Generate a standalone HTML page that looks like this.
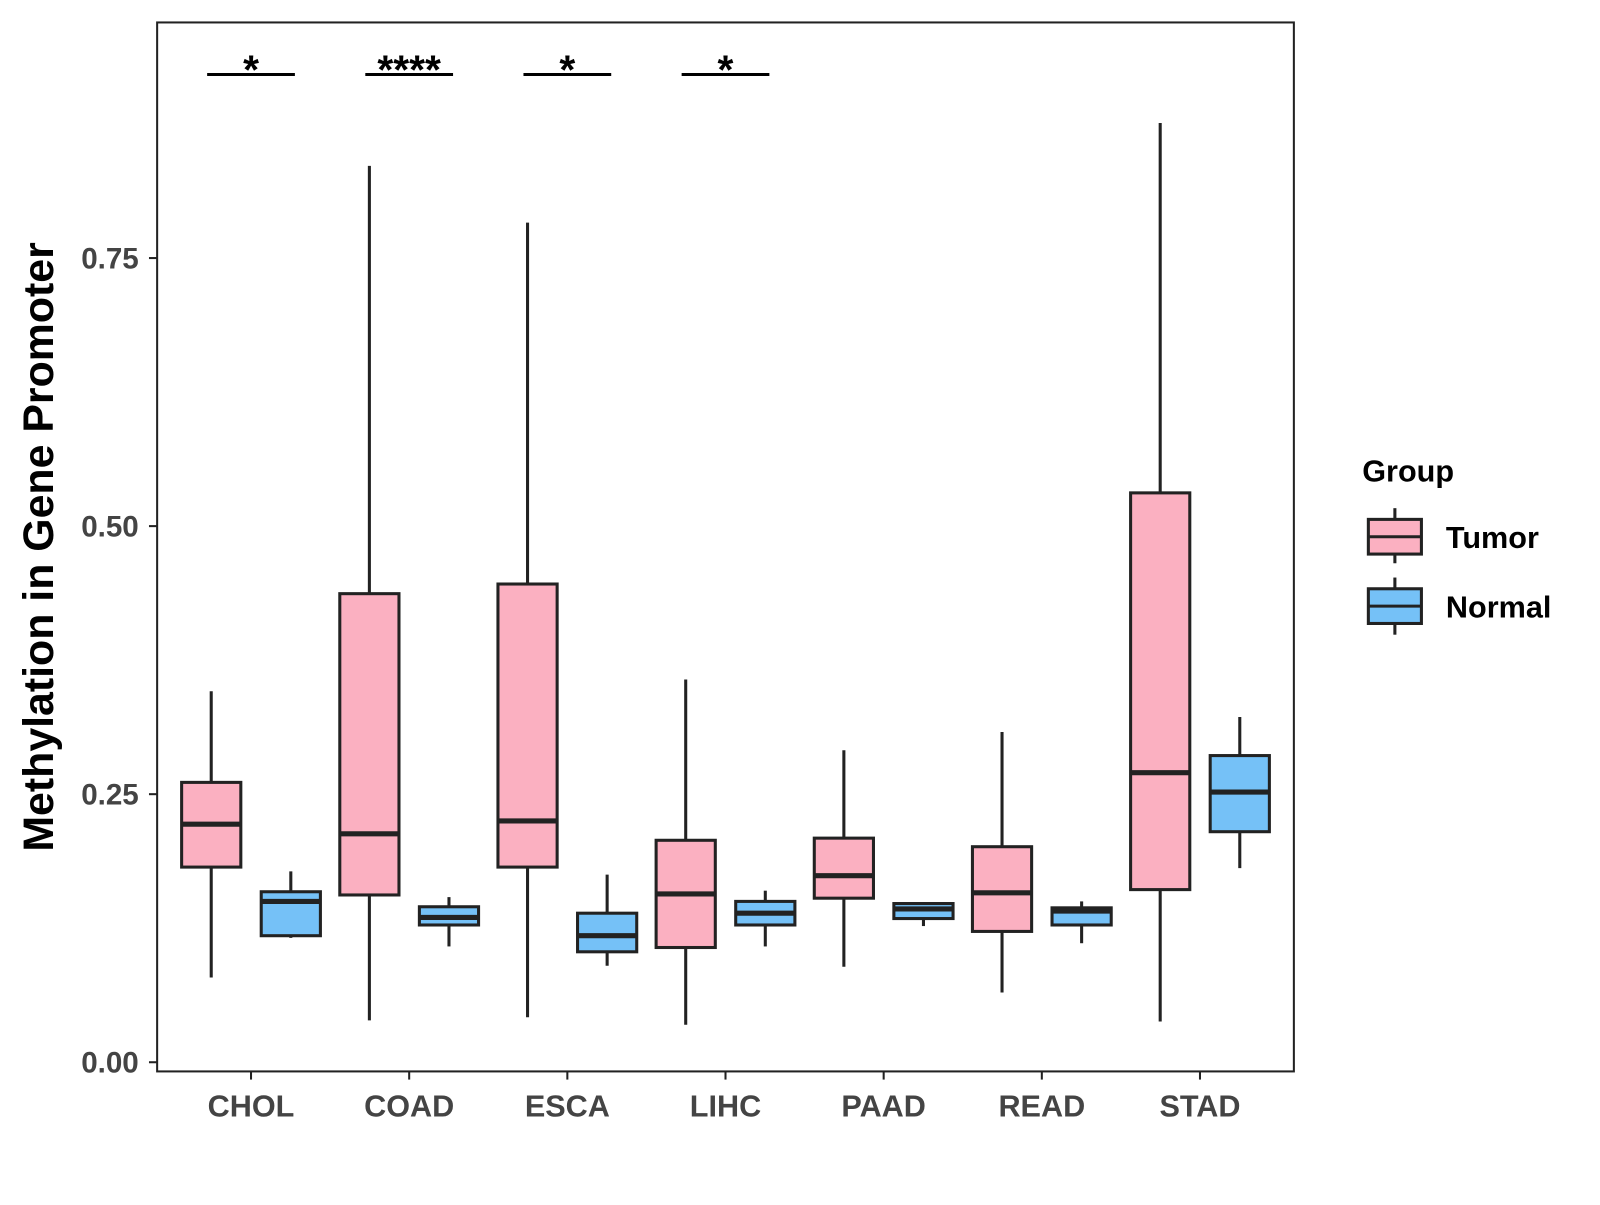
<!DOCTYPE html>
<html><head><meta charset="utf-8"><style>
body{margin:0;background:#fff;width:1600px;height:1200px;overflow:hidden}
svg{font-family:"Liberation Sans",Arial,sans-serif;font-weight:bold}
</style></head><body>
<svg id="chart" width="1600" height="1200">
<g transform="scale(1.0204)">
<rect x="154" y="22" width="1114" height="1028" fill="#fff" stroke="#222" stroke-width="2"/>
<g id="yaxis"></g>
<g id="xaxis"></g>
<g id="boxes"></g>
<g id="sig"></g>
<text x="52" y="536" font-size="42" text-anchor="middle" transform="rotate(-90 52 536)" fill="#000">Methylation in Gene Promoter</text>
<g>
<text x="1335" y="472" font-size="30" fill="#000">Group</text>
<g>
<line x1="1367" y1="498" x2="1367" y2="552" stroke="#222" stroke-width="3"/>
<rect x="1341" y="509" width="52" height="34" fill="#FBB0C1" stroke="#222" stroke-width="3"/>
<line x1="1341" y1="526" x2="1393" y2="526" stroke="#222" stroke-width="3"/>
<text x="1417" y="537" font-size="30" fill="#000">Tumor</text></g>
<g>
<line x1="1367" y1="566" x2="1367" y2="622" stroke="#222" stroke-width="3"/>
<rect x="1341" y="577" width="52" height="34" fill="#75C1F7" stroke="#222" stroke-width="3"/>
<line x1="1341" y1="594" x2="1393" y2="594" stroke="#222" stroke-width="3"/>
<text x="1417" y="605" font-size="30" fill="#000">Normal</text></g>
</g>
</g>
</svg>
<script>
const categories=["CHOL","COAD","ESCA","LIHC","PAAD","READ","STAD"];
const tumorStats=[[0.079,0.182,0.222,0.261,0.346],[0.039,0.156,0.213,0.437,0.836],[0.042,0.182,0.225,0.446,0.783],[0.035,0.107,0.157,0.207,0.357],[0.089,0.153,0.174,0.209,0.291],[0.065,0.122,0.158,0.201,0.308],[0.038,0.161,0.270,0.531,0.876]];
const normalStats=[[0.116,0.118,0.150,0.159,0.178],[0.108,0.128,0.135,0.145,0.154],[0.090,0.103,0.118,0.139,0.175],[0.108,0.128,0.139,0.150,0.160],[0.127,0.134,0.143,0.148,0.149],[0.111,0.128,0.141,0.144,0.150],[0.181,0.215,0.252,0.286,0.322]];
const yTicks=[0,0.25,0.5,0.75];
const yTickLabels=["0.00","0.25","0.50","0.75"];
const sigLabels=["*","****","*","*","","",""];
const NS="http://www.w3.org/2000/svg";
function y(v){return 1041-v*1050.8;}
function x(i){return 246+i*155;}
function mk(p,t,a){const e=document.createElementNS(NS,t);for(const k in a)e.setAttribute(k,a[k]);p.appendChild(e);return e;}
const ya=document.getElementById('yaxis');
yTicks.forEach((v,i)=>{
 const l=mk(ya,'line',{x1:146,x2:154,y1:y(v),y2:y(v),stroke:'#222','stroke-width':2});
 
 
 const t=mk(ya,'text',{x:136,y:y(v)+10,'font-size':29,'text-anchor':'end',fill:'#444'});t.textContent=yTickLabels[i];
 
 
});
const xa=document.getElementById('xaxis');
categories.forEach((c,i)=>{
 const l=mk(xa,'line',{x1:x(i),x2:x(i),y1:1050,y2:1058,stroke:'#222','stroke-width':2});
 
 
 const t=mk(xa,'text',{x:x(i),y:1094,'font-size':30,'text-anchor':'middle',fill:'#444'});t.textContent=c;
 
 
});
const bx=document.getElementById('boxes');
function box(cx,s,fill,name){
 const g=mk(bx,'g',{});
 
 
 mk(g,'line',{x1:cx,x2:cx,y1:y(s[4]),y2:y(s[0]),stroke:'#222','stroke-width':3});
 mk(g,'rect',{x:cx-29,y:y(s[3]),width:58,height:Math.max(1,y(s[1])-y(s[3])),fill:fill,stroke:'#222','stroke-width':3});
 mk(g,'line',{x1:cx-29,x2:cx+29,y1:y(s[2]),y2:y(s[2]),stroke:'#222','stroke-width':5});
}
categories.forEach((c,i)=>{
 box(x(i)-39,tumorStats[i],'#FBB0C1','box-tumor-'+c.toLowerCase());
 box(x(i)+39,normalStats[i],'#75C1F7','box-normal-'+c.toLowerCase());
});
const sg=document.getElementById('sig');
sigLabels.forEach((s,i)=>{
 if(!s)return;
 const l=mk(sg,'line',{x1:x(i)-43,x2:x(i)+43,y1:73,y2:73,stroke:'#000','stroke-width':3});
 
 
 const t=mk(sg,'text',{x:x(i),y:82,'font-size':40,'text-anchor':'middle',fill:'#000'});t.textContent=s;
 
 
});
</script>
</body></html>
